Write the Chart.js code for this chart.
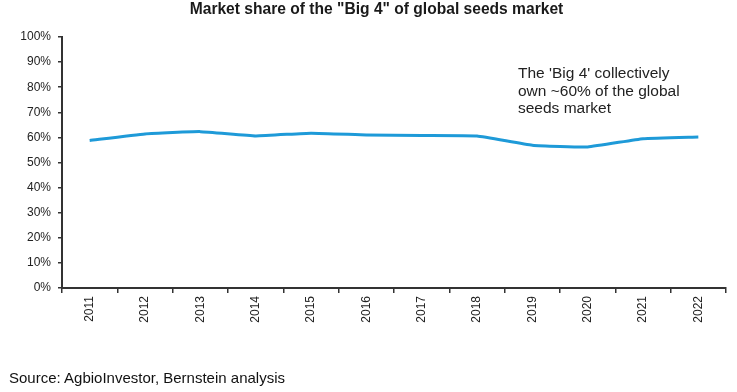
<!DOCTYPE html>
<html>
<head>
<meta charset="utf-8">
<script src="https://cdn.jsdelivr.net/npm/chart.js@4.4.1/dist/chart.umd.min.js"></script>
<style>
    html, body { margin: 0; padding: 0; background: #fff; }
    #wrap { position: relative; width: 737px; height: 392px; font-family: "Liberation Sans", Arial, sans-serif; color: #1a1a1a; }
    #chart { position: absolute; left: 0; top: 0; }
    .title { position: absolute; left: 0; width: 753px; top: 0px; text-align: center; font-weight: bold; font-size: 15.6px; }
    .note { position: absolute; left: 518px; top: 64px; font-size: 15.5px; line-height: 17.5px; color: #222; }
    .source { position: absolute; left: 9px; top: 369px; font-size: 15px; color: #111; }
</style>
</head>
<body>
<div id="wrap">
    <canvas id="chart" width="737" height="392"></canvas>
    <div class="title">Market share of the "Big 4" of global seeds market</div>
    <div class="note">The 'Big 4' collectively<br>own ~60% of the global<br>seeds market</div>
    <div class="source">Source: AgbioInvestor, Bernstein analysis</div>
</div>
<script>
// --- Data ---
const years = ["2011", "2012", "2013", "2014", "2015", "2016", "2017", "2018", "2019", "2020", "2021", "2022"];
const big4Share = [58.8, 61.4, 62.3, 60.6, 61.7, 61.0, 60.8, 60.6, 56.9, 56.2, 59.5, 60.2];
const yTicks = [0, 10, 20, 30, 40, 50, 60, 70, 80, 90, 100];

const axisColor = '#333';
const labelFont = { family: '"Liberation Sans", Arial, sans-serif', size: 12 };

new Chart(document.getElementById('chart').getContext('2d'), {
    type: 'line',
    data: {
        labels: years,
        datasets: [{
            label: "Big 4 share",
            data: big4Share,
            borderColor: "#1e9ad8",
            borderWidth: 3,
            pointRadius: 0,
            tension: 0.12,
            fill: false
        }]
    },
    options: {
        responsive: false,
        animation: false,
        layout: { padding: { top: 37, right: 11, left: 0, bottom: 0 } },
        plugins: { legend: { display: false }, tooltip: { enabled: false }, title: { display: false } },
        scales: {
            x: {
                offset: true,
                grid: { display: true, drawOnChartArea: false, offset: true, color: axisColor, tickLength: 5, lineWidth: 1.5 },
                border: { display: true, color: axisColor, width: 2 },
                ticks: { color: '#222', font: labelFont, minRotation: 90, maxRotation: 90, padding: 3 },
                afterFit: s => { s.height = 104; }
            },
            y: {
                min: 0,
                max: 100,
                afterBuildTicks: s => { s.ticks = yTicks.map(v => ({ value: v })); },
                grid: { display: true, drawOnChartArea: false, color: axisColor, tickLength: 4, lineWidth: 1.5 },
                border: { display: true, color: axisColor, width: 2 },
                ticks: { color: '#222', font: labelFont, padding: 7, callback: v => v + '%' },
                afterFit: s => { s.width = 62; }
            }
        }
    }
});
</script>
</body>
</html>
